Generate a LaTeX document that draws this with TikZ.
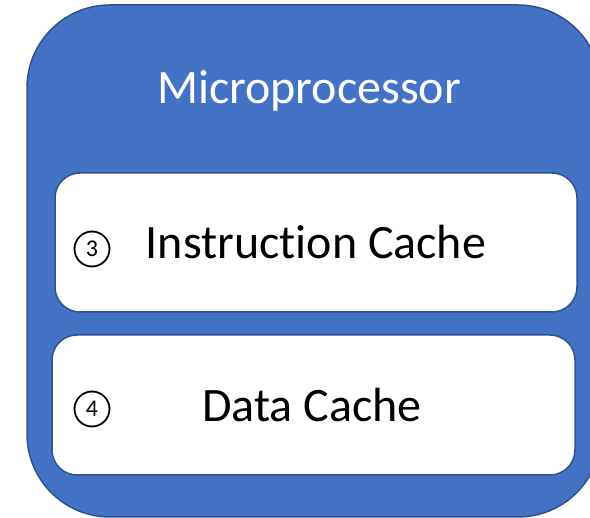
\documentclass[tikz,border=0pt]{standalone}
\usepackage{fontspec}
\setmainfont{Carlito}[Ligatures={NoCommon}]
\definecolor{cpublue}{HTML}{4472C4}
\definecolor{cpuedge}{HTML}{2F528F}
\tikzset{
  cpubox/.style={fill=cpublue, draw=cpuedge, line width=1.5pt, rounded corners=83pt},
  cachebox/.style={fill=white, draw=cpuedge, line width=1.5pt, rounded corners=25pt},
  bigtext/.style={font=\fontsize{48}{56}\selectfont, inner sep=0pt, anchor=base},
  stepmark/.style={circle, draw=black, line width=1.8pt, minimum size=35pt, inner sep=0pt, font=\fontsize{24}{28}\selectfont}
}
\begin{document}
\begin{tikzpicture}[x=1pt, y=-1pt]
  \useasboundingbox (0,0) rectangle (590,518);
  \clip (0,0) rectangle (590,518);
  % processor body
  \draw[cpubox] (27,5) rectangle (601,517);
  \node[bigtext, text=white] (cpu) at (309,104) {Microprocessor};
  % caches
  \draw[cachebox] (55,173) rectangle (577,312);
  \draw[cachebox] (52,335) rectangle (575,475);
  \node[bigtext] (icache) at (316,259) {Instruction Cache};
  \node[bigtext] (dcache) at (312,422) {Data Cache};
  \node[stepmark] (s3) at (92,249) {3};
  \node[stepmark] (s4) at (92,409) {4};
\end{tikzpicture}
\end{document}
